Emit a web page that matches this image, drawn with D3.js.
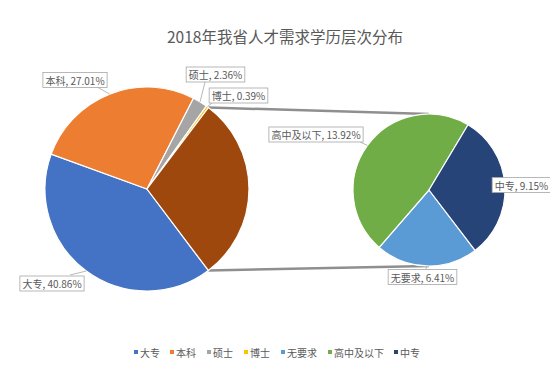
<!DOCTYPE html>
<html><head><meta charset="utf-8">
<script src="https://cdn.jsdelivr.net/npm/d3@7"></script>
<style>
html,body{margin:0;padding:0;background:#fff;}
text{font-family:"Noto Sans CJK SC","Noto Sans",sans-serif;}
</style></head>
<body><svg id="c" width="550" height="366"></svg>
<script>
const title = "2018年我省人才需求学历层次分布";
const mainCats = ["大专","本科","硕士","博士"];
const mainVals = [40.86,27.01,2.36,0.39];
const subCats = ["无要求","高中及以下","中专"];
const subVals = [6.41,13.92,9.15];
const legendCats = ["大专","本科","硕士","博士","无要求","高中及以下","中专"];
const colors = {"大专":"#4472C4","本科":"#ED7D31","硕士":"#A5A5A5","博士":"#FFC000",
  "无要求":"#5B9BD5","高中及以下":"#70AD47","中专":"#264478","其他":"#9E480E"};

const svg = d3.select("#c");
const W=550,H=366;
svg.append("rect").attr("width",W).attr("height",H).attr("fill","#fff");

svg.append("text").attr("x",167).attr("y",43).attr("font-size",15.5)
  .attr("fill","#595959").text(title);

const otherVal = d3.sum(subVals);
const mainData = mainCats.map((c,i)=>({name:c,value:mainVals[i]})).concat([{name:"其他",value:otherVal}]);
const total = d3.sum(mainData,d=>d.value);
const start = Math.PI/2 + (otherVal/total)*Math.PI;

const main = {cx:147, cy:189, r:102};
const sub = {cx:429, cy:190, r:76};

const pieMain = d3.pie().sort(null).value(d=>d.value).startAngle(start).endAngle(start+2*Math.PI);
const arcsMain = pieMain(mainData);
const subData = subCats.map((c,i)=>({name:c,value:subVals[i]}));
const startSub = start - 0.006;
const pieSub = d3.pie().sort(null).value(d=>d.value).startAngle(startSub).endAngle(startSub+2*Math.PI);
const arcsSub = pieSub(subData);

const arcM = d3.arc().innerRadius(0).outerRadius(main.r);
const arcS = d3.arc().innerRadius(0).outerRadius(sub.r);

// connector lines
const other = arcsMain[arcsMain.length-1];
const pt = (c,r,a)=>[c.cx + r*Math.sin(a), c.cy - r*Math.cos(a)];
const p1 = pt(main, main.r, other.startAngle), p2 = pt(main, main.r, other.endAngle);
const conn = svg.append("g");
conn.append("line").attr("x1",p1[0]).attr("y1",p1[1]).attr("x2",sub.cx).attr("y2",sub.cy-sub.r)
  .attr("stroke","#8f8f8f").attr("stroke-width",2.5);
conn.append("line").attr("x1",p2[0]).attr("y1",p2[1]).attr("x2",sub.cx).attr("y2",sub.cy+sub.r)
  .attr("stroke","#8f8f8f").attr("stroke-width",2.5);

svg.append("g").attr("transform",`translate(${main.cx},${main.cy})`)
  .selectAll("path").data(arcsMain).join("path")
  .attr("d",arcM).attr("fill",d=>colors[d.data.name]).attr("stroke","#fff").attr("stroke-width",1.2);
svg.append("g").attr("transform",`translate(${sub.cx},${sub.cy})`)
  .selectAll("path").data(arcsSub).join("path")
  .attr("d",arcS).attr("fill",d=>colors[d.data.name]).attr("stroke","#fff").attr("stroke-width",1.2);

// labels: box centre positions (layout)
const labelLayout = {
  "大专":{x:52,y:283.5,ax:70,ay:275},
  "本科":{x:75,y:80,ax:97,ay:87},
  "硕士":{x:215.5,y:74.5,ax:205,ay:82},
  "博士":{x:238.5,y:95.5,ax:212,ay:103},
  "高中及以下":{x:316,y:134.5,ax:360,ay:142},
  "中专":{x:521.5,y:185,ax:null},
  "无要求":{x:422.5,y:277,ax:426,ay:269}
};
const labG = svg.append("g");
function addLabel(d, c, r){
  const name=d.data.name, L=labelLayout[name];
  const mid=(d.startAngle+d.endAngle)/2;
  const e = pt(c, r, mid);
  if(L.ax!==null){
    labG.append("line").attr("x1",L.ax).attr("y1",L.ay).attr("x2",e[0]).attr("y2",e[1])
      .attr("stroke","#a6a6a6").attr("stroke-width",0.8);
  }
  const g = labG.append("g");
  const t = g.append("text").attr("x",L.x).attr("y",L.y).attr("text-anchor","middle")
    .attr("dominant-baseline","central").attr("font-size",10).attr("fill","#595959")
    .text(`${name}, ${d.data.value.toFixed(2)}%`);
  const bb = t.node().getBBox();
  g.insert("rect","text").attr("x",bb.x-2.5).attr("y",L.y-7.5).attr("width",bb.width+5).attr("height",15)
    .attr("fill","#fff").attr("stroke","#a6a6a6").attr("stroke-width",0.8);
}
arcsMain.filter(d=>d.data.name!=="其他").forEach(d=>addLabel(d,main,main.r));
arcsSub.forEach(d=>addLabel(d,sub,sub.r));

// legend
const legX = [134,170,207,244,281,328,394];
const lg = svg.append("g");
legendCats.forEach((c,i)=>{
  lg.append("rect").attr("x",legX[i]).attr("y",350).attr("width",4).attr("height",4).attr("fill",colors[c]);
  lg.append("text").attr("x",legX[i]+6).attr("y",352).attr("dominant-baseline","central")
    .attr("font-size",10).attr("fill","#595959").text(c);
});
</script></body></html>
